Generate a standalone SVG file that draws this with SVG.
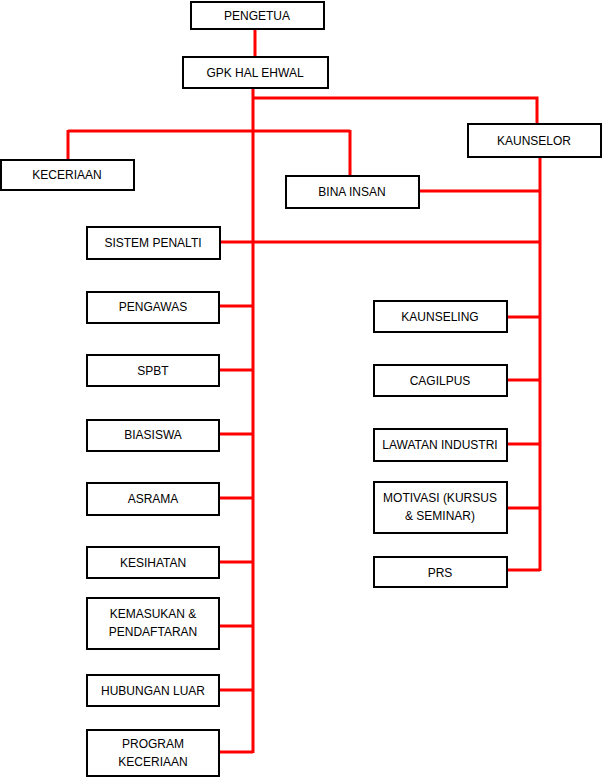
<svg xmlns="http://www.w3.org/2000/svg" width="602" height="777" viewBox="0 0 602 777">
<style>
.b rect{fill:#fff;stroke:#000;stroke-width:2}
text{font-family:"Liberation Sans",Arial,sans-serif;font-size:12px;fill:#000;text-anchor:middle}
#connectors path{stroke:#f00;stroke-width:3;fill:none}
</style>
<rect width="602" height="777" fill="#fff"/>
<g id="connectors">
<path d="M255 29V57M253 88V753M253 98H537V124M68 131H350M68 130V160M350 130V176M540 157V571M419 191H540M220 242H540"/>
<path d="M219 306H253M219 370H253M219 434H253M219 498H253M219 562H253M219 626H253M219 690H253M219 752H253"/>
<path d="M507 317H540M507 380H540M507 444H540M507 508H540M507 570H540"/>
</g>
<g id="pengetua" class="b"><rect x="191" y="2" width="133" height="27"/><text x="257" y="20">PENGETUA</text></g>
<g id="gpk" class="b"><rect x="183" y="57" width="145" height="31"/><text x="255" y="77">GPK HAL EHWAL</text></g>
<g id="kaunselor" class="b"><rect x="468" y="124" width="133" height="33"/><text x="534" y="145">KAUNSELOR</text></g>
<g id="keceriaan" class="b"><rect x="1" y="160" width="133" height="30"/><text x="67" y="179">KECERIAAN</text></g>
<g id="binainsan" class="b"><rect x="286" y="176" width="133" height="32"/><text x="352" y="196">BINA INSAN</text></g>
<g id="sistempenalti" class="b"><rect x="87" y="227" width="133" height="32"/><text x="153" y="247">SISTEM PENALTI</text></g>
<g id="pengawas" class="b"><rect x="87" y="292" width="132" height="31"/><text x="153" y="311">PENGAWAS</text></g>
<g id="spbt" class="b"><rect x="87" y="355" width="132" height="31"/><text x="153" y="375">SPBT</text></g>
<g id="biasiswa" class="b"><rect x="87" y="420" width="132" height="31"/><text x="153" y="439">BIASISWA</text></g>
<g id="asrama" class="b"><rect x="87" y="483" width="132" height="32"/><text x="153" y="503">ASRAMA</text></g>
<g id="kesihatan" class="b"><rect x="87" y="547" width="132" height="31"/><text x="153" y="567">KESIHATAN</text></g>
<g id="kemasukan" class="b"><rect x="87" y="598" width="132" height="51"/><text x="153" y="618">KEMASUKAN &amp;</text><text x="153" y="636">PENDAFTARAN</text></g>
<g id="hubungan" class="b"><rect x="87" y="675" width="132" height="31"/><text x="153" y="695">HUBUNGAN LUAR</text></g>
<g id="program" class="b"><rect x="87" y="730" width="132" height="46"/><text x="153" y="748">PROGRAM</text><text x="153" y="766">KECERIAAN</text></g>
<g id="kaunseling" class="b"><rect x="374" y="301" width="133" height="31"/><text x="440" y="321">KAUNSELING</text></g>
<g id="cagilpus" class="b"><rect x="374" y="365" width="133" height="31"/><text x="440" y="385">CAGILPUS</text></g>
<g id="lawatan" class="b"><rect x="374" y="429" width="133" height="32"/><text x="440" y="449">LAWATAN INDUSTRI</text></g>
<g id="motivasi" class="b"><rect x="374" y="482" width="133" height="51"/><text x="440" y="502">MOTIVASI (KURSUS</text><text x="440" y="520">&amp; SEMINAR)</text></g>
<g id="prs" class="b"><rect x="374" y="557" width="133" height="30"/><text x="440" y="577">PRS</text></g>
</svg>
